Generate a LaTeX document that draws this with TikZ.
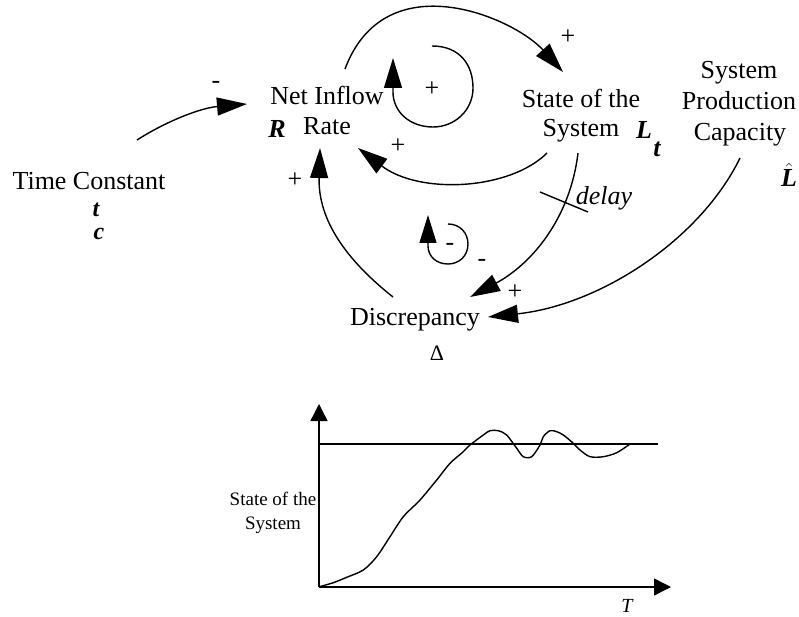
\documentclass[tikz,border=0pt]{standalone}
\usepackage{fontspec}
\setmainfont{Liberation Serif}
\usetikzlibrary{arrows.meta}
\begin{document}
\begin{tikzpicture}[x=1pt,y=-1pt,
  lbl/.style={inner sep=0pt, font=\fontsize{26}{30}\selectfont},
  lblb/.style={lbl, anchor=base},
  sym/.style={inner sep=0pt, font=\fontsize{26}{30}\selectfont\bfseries\itshape},
  symb/.style={sym, anchor=base},
  small/.style={inner sep=0pt, anchor=base, font=\fontsize{19}{22}\selectfont},
  link/.style={line width=1.4pt, -{Triangle[length=30pt,width=18pt]}},
  axis/.style={line width=1.4pt, -{Triangle[length=17pt,width=17pt]}},
  plain/.style={line width=1.4pt}]
\useasboundingbox (0,0) rectangle (799,617);
% texts
\node[lblb] (ni1) at (327,105) {Net Inflow};
\node[lblb] (ni2) at (327,135) {Rate};
\node[sym] (R) at (277,129) {R};
\node[lblb] (tc) at (89,190) {Time Constant};
\node[symb, font=\fontsize{24}{28}\selectfont\bfseries\itshape] (tct) at (96,217) {t};
\node[symb, font=\fontsize{24}{28}\selectfont\bfseries\itshape] (tcc) at (99,240) {c};
\node[lblb] (st1) at (581,108) {State of the};
\node[lblb] (st2) at (581,137) {System};
\node[sym] (L) at (644,130) {L};
\node[sym] (Lt) at (657,149) {t};
\node[lblb] (sp1) at (739,79) {System};
\node[lblb] (sp2) at (739,110) {Production};
\node[lblb] (sp3) at (740,141) {Capacity};
\node[symb] (Lhat) at (789,187) {$\hat{\mbox{\bfseries\itshape L}}$};
\node[lblb] (disc) at (415,325) {Discrepancy};
\node[lbl, font=\fontsize{22}{26}\selectfont] (delta) at (437,353) {Δ};
\node[lbl, font=\fontsize{26}{30}\selectfont\itshape] (delay) at (604,198) {delay};
% signs
\node[lbl] (m1) at (216,85) {-};
\node[lbl] (p1) at (568,37) {+};
\node[lbl] (p2) at (432,89) {+};
\node[lbl] (p3) at (398,146) {+};
\node[lbl] (p4) at (295,180) {+};
\node[lbl] (m2) at (482,263) {-};
\node[lbl] (p5) at (515,292) {+};
\node[lbl] (m3) at (450,247) {-};
% connector end points
\coordinate (tcOut) at (137,140);
\coordinate (rIn1) at (247,104);
\coordinate (rOut) at (345,69);
\coordinate (sIn) at (563,72);
\coordinate (sOut1) at (547,153);
\coordinate (rIn2) at (358,148);
\coordinate (sOut2) at (578,153);
\coordinate (dIn1) at (470,297);
\coordinate (cOut) at (740,158);
\coordinate (dIn2) at (488,317);
\coordinate (dOut) at (393,297);
\coordinate (rIn3) at (320,148);
\coordinate (tickA) at (540,192);
\coordinate (tickB) at (588,212);
% connectors
\draw[link] (tcOut) .. controls (165,122) and (200,108) .. (rIn1);
\draw[link] (rOut) .. controls (385,-38) and (513,17) .. (sIn);
\draw[link] (sOut1) .. controls (510,190) and (420,195) .. (rIn2);
\draw[link] (sOut2) .. controls (570,220) and (530,265) .. (dIn1);
\draw[link] (cOut) .. controls (700,240) and (600,305) .. (dIn2);
\draw[link] (dOut) .. controls (340,255) and (318,215) .. (rIn3);
\draw[plain] (tickA) -- (tickB);
% loop markers
\draw[link] (432,46) .. controls (460,46) and (473,65) .. (473,88)
  .. controls (473,110) and (455,127) .. (433,127)
  .. controls (410,127) and (393,112) .. (393,92) -- (393,58);
\draw[link, -{Triangle[length=28pt,width=17pt]}] (448,224) .. controls (460,224) and (468,233) .. (468,244)
  .. controls (468,256) and (459,264) .. (448,264)
  .. controls (436,264) and (428,256) .. (428,246) -- (428,215);
% graph
\coordinate (O) at (319,587);
\coordinate (Ytop) at (319,404);
\coordinate (Xend) at (671,587);
\coordinate (refA) at (319,444);
\coordinate (refB) at (658,444);
\draw[axis] (O) -- (Ytop);
\draw[axis] (O) -- (Xend);
\draw[plain] (refA) -- (refB);
\draw[plain, line join=round] plot[smooth, tension=0.5] coordinates {
 (319.3,586.7) (333.3,582.7) (346.7,577.3) (363.3,570) (376.7,556.7)
 (390,536.7) (403.3,516.7) (420,500) (436.7,480) (450,463.3)
 (463.3,451.7) (470,445) (483.3,435) (490,430.7) (498.3,430.7)
 (506.7,435) (516.7,448.3) (523.3,456.7) (531.7,456.7) (540,445)
 (543.3,436.7) (550,430.7) (556.7,431.7) (563.3,435) (573.3,443.3)
 (580,450) (590,456.7) (603.3,456.7) (616.7,452.7) (630,444)};
\node[small] (gl1) at (273,505) {State of the};
\node[small] (gl2) at (273,529) {System};
\node[small, font=\fontsize{20}{24}\selectfont\itshape] (T) at (627,612) {T};
\end{tikzpicture}
\end{document}
